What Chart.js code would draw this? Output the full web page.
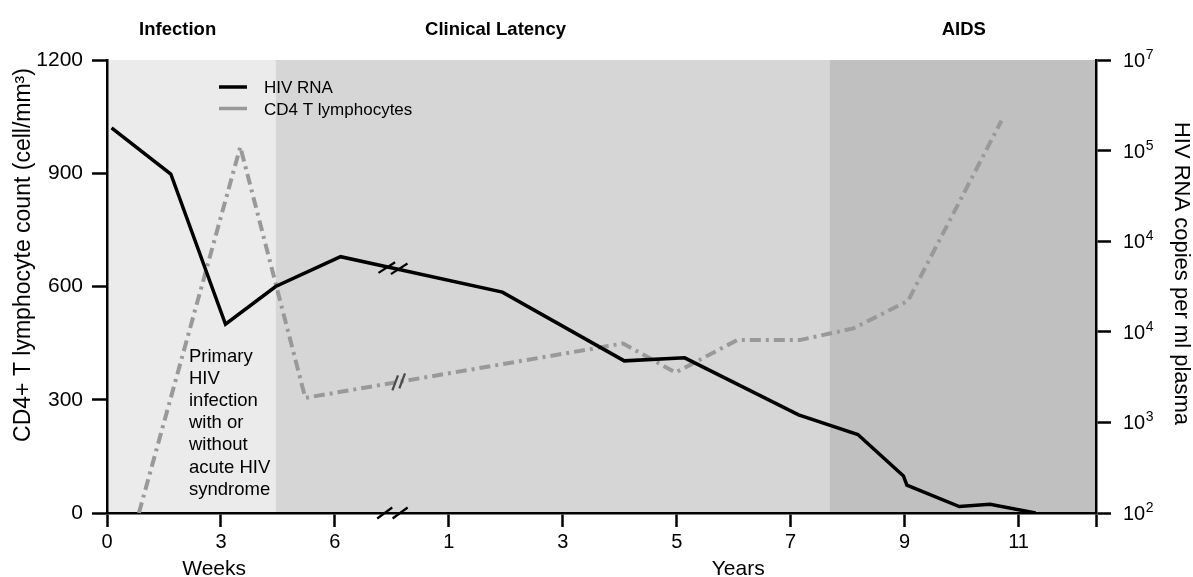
<!DOCTYPE html>
<html>
<head>
<meta charset="utf-8">
<script src="https://cdn.jsdelivr.net/npm/chart.js@4/dist/chart.umd.min.js"></script>
<style>
html,body{margin:0;padding:0;background:#fff;}
#wrap{width:1193px;height:577px;}
</style>
</head>
<body>
<div id="wrap"><canvas id="c" width="1193" height="577"></canvas></div>
<script>
const FONT = '"Liberation Sans", Arial, Helvetica, sans-serif';

// Evenly spaced tick slots: weeks 0,3,6 then years 1,3,5,7,9,11
const xTickLabels = ['0', '3', '6', '1', '3', '5', '7', '9', '11'];
const xMax = 8.68;
const yLeftMax = 1200;
const yLeftStep = 300;
const rightTickExponents = [2, 3, 4, 4, 5, 7];

// HIV RNA (black solid line)
const hivX = [0.04, 0.56, 1.04, 1.48, 2.05, 3.47, 4.54, 5.07, 6.07, 6.59, 6.99, 7.02, 7.48, 7.75, 8.15];
const hivY = [1020, 898, 500, 600, 679, 585, 403, 411, 260, 208, 98, 74, 17, 23, 0];

// CD4 T lymphocytes (grey dash-dot line)
const cd4X = [0.28, 1.17, 1.74, 4.53, 4.99, 5.53, 6.08, 6.55, 7.03, 7.85];
const cd4Y = [0, 970, 305, 449, 372, 458, 458, 489, 562, 1039];

// Disease phases
const phaseNames = ['Infection', 'Clinical Latency', 'AIDS'];
const phaseBounds = [0, 1.48, 6.34, xMax];
const phaseColors = ['#ebebeb', '#d6d6d6', '#c0c0c0'];
const phaseLabelX = [0.62, 3.41, 7.52];

const annotationLines = ['Primary', 'HIV', 'infection', 'with or', 'without', 'acute HIV', 'syndrome'];
const xTitles = [{text: 'Weeks', at: 0.94}, {text: 'Years', at: 5.54}];
const leftTitle = 'CD4+ T lymphocyte count (cell/mm\u00B3)';
const rightTitle = 'HIV RNA copies per ml plasma';
const breakAt = {hiv: 2.51, cd4: 2.56, axis: 2.505};

function yAt(xs, ys, xv) {
  for (let i = 0; i < xs.length - 1; i++) {
    if (xv >= xs[i] && xv <= xs[i + 1]) {
      const t = (xv - xs[i]) / (xs[i + 1] - xs[i]);
      return ys[i] + t * (ys[i + 1] - ys[i]);
    }
  }
  return ys[ys.length - 1];
}

const bgPlugin = {
  id: 'phaseBg',
  beforeDraw(chart) {
    const {ctx, chartArea: ca, scales: {x}} = chart;
    ctx.save();
    for (let i = 0; i < phaseColors.length; i++) {
      const x0 = x.getPixelForValue(phaseBounds[i]);
      const x1 = x.getPixelForValue(phaseBounds[i + 1]);
      ctx.fillStyle = phaseColors[i];
      ctx.fillRect(x0, ca.top, x1 - x0, ca.bottom - ca.top);
    }
    ctx.restore();
  }
};

function slash(ctx, cx, cy, hx, hy) {
  ctx.beginPath();
  ctx.moveTo(cx - hx, cy + hy);
  ctx.lineTo(cx + hx, cy - hy);
  ctx.stroke();
}

const overlayPlugin = {
  id: 'overlay',
  afterDraw(chart) {
    const {ctx, chartArea: ca, scales: {x, y, y2}} = chart;
    const ds = chart.data.datasets;
    ctx.save();
    ctx.fillStyle = '#000';

    // phase headers
    ctx.font = 'bold 18.5px ' + FONT;
    ctx.textAlign = 'center';
    ctx.textBaseline = 'alphabetic';
    phaseNames.forEach((n, i) => ctx.fillText(n, x.getPixelForValue(phaseLabelX[i]), 35));

    // legend
    ctx.lineCap = 'butt';
    ctx.font = '17px ' + FONT;
    ctx.textAlign = 'left';
    const legY = [87, 108.5];
    ds.forEach((d, i) => {
      ctx.strokeStyle = d.borderColor;
      ctx.lineWidth = 3.5;
      ctx.beginPath();
      ctx.moveTo(219, legY[i]);
      ctx.lineTo(247, legY[i]);
      ctx.stroke();
      ctx.fillStyle = '#000';
      ctx.fillText(d.label, 264, legY[i] + 6);
    });

    // annotation
    ctx.font = '18.5px ' + FONT;
    annotationLines.forEach((t, i) => ctx.fillText(t, 189, 361.5 + i * 22.2));

    // break marks
    ctx.lineWidth = 2.2;
    ctx.strokeStyle = '#000';
    const hx = x.getPixelForValue(breakAt.hiv);
    const hy = y.getPixelForValue(yAt(hivX, hivY, breakAt.hiv));
    slash(ctx, hx - 6.2, hy - 0.6, 8.3, 5.3);
    slash(ctx, hx + 6.2, hy + 0.6, 8.3, 5.3);
    ctx.strokeStyle = '#4a4a4a';
    const cx = x.getPixelForValue(breakAt.cd4);
    const cy = y.getPixelForValue(yAt(cd4X, cd4Y, breakAt.cd4));
    slash(ctx, cx - 3.5, cy + 1.1, 2.8, 7.5);
    slash(ctx, cx + 3.5, cy - 1.1, 2.8, 7.5);
    ctx.strokeStyle = '#000';
    const ax = x.getPixelForValue(breakAt.axis);
    slash(ctx, ax - 7.7, ca.bottom, 7.5, 5.5);
    slash(ctx, ax + 7.7, ca.bottom, 7.5, 5.5);

    // x-axis titles
    ctx.fillStyle = '#000';
    ctx.font = '21px ' + FONT;
    ctx.textAlign = 'center';
    xTitles.forEach(t => ctx.fillText(t.text, x.getPixelForValue(t.at), 575));

    // right tick labels 10^n
    ctx.textAlign = 'left';
    rightTickExponents.forEach((e, i) => {
      const py = y2.getPixelForValue(i);
      ctx.font = '20px ' + FONT;
      ctx.fillText('10', 1123, py + 7);
      const w = ctx.measureText('10').width;
      ctx.font = '14px ' + FONT;
      ctx.fillText(String(e), 1123 + w + 0.5, py - 1);
    });

    // axis titles
    ctx.font = '23px ' + FONT;
    ctx.textAlign = 'center';
    ctx.save();
    ctx.translate(30, 255);
    ctx.rotate(-Math.PI / 2);
    ctx.fillText(leftTitle, 0, 0);
    ctx.restore();
    ctx.font = '22px ' + FONT;
    ctx.save();
    ctx.translate(1175, 273.5);
    ctx.rotate(Math.PI / 2);
    ctx.fillText(rightTitle, 0, 0);
    ctx.restore();

    ctx.restore();
  }
};

const axisGrid = {drawOnChartArea: false, drawTicks: true, tickLength: 15, tickWidth: 2.5, tickColor: '#000'};
const axisBorder = {display: true, color: '#000', width: 2.5};

new Chart(document.getElementById('c').getContext('2d'), {
  type: 'line',
  data: {
    datasets: [
      {
        label: 'HIV RNA',
        data: hivX.map((v, i) => ({x: v, y: hivY[i]})),
        borderColor: '#000',
        borderWidth: 3.5,
        borderJoinStyle: 'miter',
        pointRadius: 0,
        tension: 0,
        fill: false,
        yAxisID: 'y'
      },
      {
        label: 'CD4 T lymphocytes',
        data: cd4X.map((v, i) => ({x: v, y: cd4Y[i]})),
        borderColor: '#999999',
        borderWidth: 4,
        borderDash: [11, 5, 3, 5],
        borderCapStyle: 'butt',
        borderJoinStyle: 'miter',
        pointRadius: 0,
        tension: 0,
        fill: false,
        yAxisID: 'y'
      }
    ]
  },
  options: {
    responsive: false,
    animation: false,
    devicePixelRatio: 1,
    layout: {padding: {top: 60, left: 0, right: 0, bottom: 0}},
    plugins: {legend: {display: false}, tooltip: {enabled: false}},
    scales: {
      x: {
        type: 'linear',
        min: 0,
        max: xMax,
        afterFit: s => { s.height = 64; },
        grid: Object.assign({}, axisGrid, {tickLength: 14}),
        border: axisBorder,
        ticks: {
          stepSize: 1,
          autoSkip: false,
          maxRotation: 0,
          includeBounds: true,
          padding: 3,
          color: '#000',
          font: {family: FONT, size: 20},
          callback: v => Number.isInteger(v) ? xTickLabels[v] : ''
        }
      },
      y: {
        type: 'linear',
        position: 'left',
        min: 0,
        max: yLeftMax,
        afterFit: s => { s.width = 107; },
        grid: axisGrid,
        border: axisBorder,
        ticks: {stepSize: yLeftStep, padding: 9, color: '#000', font: {family: FONT, size: 21}, callback: v => String(v)}
      },
      y2: {
        type: 'linear',
        position: 'right',
        min: 0,
        max: rightTickExponents.length - 1,
        afterFit: s => { s.width = 97; },
        grid: axisGrid,
        border: axisBorder,
        ticks: {stepSize: 1, display: false}
      }
    }
  },
  plugins: [bgPlugin, overlayPlugin]
});
</script>
</body>
</html>
